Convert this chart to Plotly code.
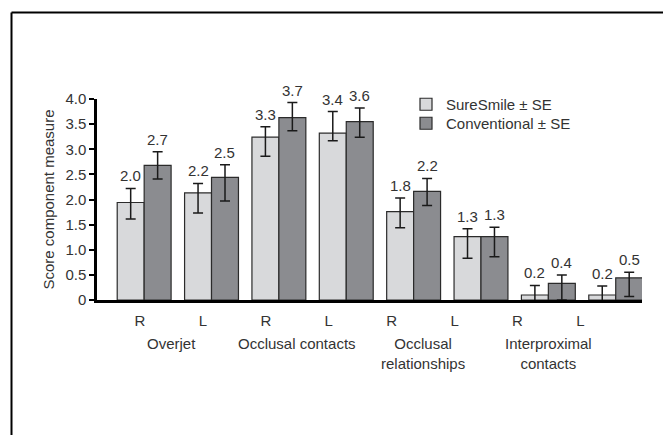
import plotly.graph_objects as go

# ---------------- data ----------------
categories = ["OJ-R", "OJ-L", "OC-R", "OC-L", "OR-R", "OR-L", "IP-R", "IP-L"]
side_labels = ["R", "L", "R", "L", "R", "L", "R", "L"]
group_names = ["Overjet", "Occlusal contacts", "Occlusal<br>relationships", "Interproximal<br>contacts"]

suresmile = [1.94, 2.13, 3.24, 3.32, 1.76, 1.26, 0.10, 0.10]
suresmile_err_up = [0.28, 0.19, 0.21, 0.43, 0.27, 0.16, 0.19, 0.18]
suresmile_err_down = [0.33, 0.40, 0.38, 0.15, 0.32, 0.43, 0.19, 0.18]
suresmile_labels = ["2.0", "2.2", "3.3", "3.4", "1.8", "1.3", "0.2", "0.2"]

conventional = [2.68, 2.44, 3.63, 3.55, 2.16, 1.26, 0.33, 0.44]
conventional_err_up = [0.27, 0.25, 0.30, 0.27, 0.26, 0.19, 0.17, 0.11]
conventional_err_down = [0.27, 0.47, 0.26, 0.31, 0.28, 0.40, 0.33, 0.37]
conventional_labels = ["2.7", "2.5", "3.7", "3.6", "2.2", "1.3", "0.4", "0.5"]

y_tickvals = [0, 0.5, 1.0, 1.5, 2.0, 2.5, 3.0, 3.5, 4.0]
y_ticktext = ["0", "0.5", "1.0", "1.5", "2.0", "2.5", "3.0", "3.5", "4.0"]

# ---------------- layout constants ----------------
W, H = 663, 435
ML, MR, MT, MB = 97, 21, 99, 135
FONT = "Liberation Sans, Arial, Helvetica, sans-serif"
FS = 15
TXT = "#333333"
X_RANGE = [-0.70, 7.39]
X2_RANGE = [-0.684, 7.98]
BARGAP = 0.2

plot_w = W - ML - MR
plot_h = H - MT - MB
cat_px = plot_w / (X_RANGE[1] - X_RANGE[0])
bar_px = cat_px * (1 - BARGAP) / 2

fig = go.Figure()

fig.add_trace(go.Bar(
    name="SureSmile ± SE", x=categories, y=suresmile, legend="legend",
    marker=dict(color="#d8d9db", line=dict(color="#2b2b2b", width=1.2)),
    error_y=dict(type="data", symmetric=False, array=suresmile_err_up,
                 arrayminus=suresmile_err_down, color="#1a1a1a", thickness=1.5, width=5),
    hoverinfo="skip",
))
fig.add_trace(go.Bar(
    name="Conventional ± SE", x=categories, y=conventional, legend="legend2",
    marker=dict(color="#8b8c90", line=dict(color="#2b2b2b", width=1.2)),
    error_y=dict(type="data", symmetric=False, array=conventional_err_up,
                 arrayminus=conventional_err_down, color="#1a1a1a", thickness=1.5, width=5),
    hoverinfo="skip",
))

# invisible trace for secondary axis carrying R/L tick labels
fig.add_trace(go.Scatter(
    x=list(range(len(side_labels))), y=[0] * len(side_labels), xaxis="x2", yaxis="y",
    mode="markers", marker=dict(opacity=0), showlegend=False, hoverinfo="skip",
))

annotations = []
for vals, ups, labs, sign in [(suresmile, suresmile_err_up, suresmile_labels, -1),
                              (conventional, conventional_err_up, conventional_labels, 1)]:
    for c, v, u, lab in zip(categories, vals, ups, labs):
        annotations.append(dict(
            x=c, y=v + u, xref="x", yref="y", text=lab, showarrow=False,
            xanchor="center", yanchor="bottom", xshift=sign * bar_px / 2, yshift=2,
            font=dict(family=FONT, size=FS, color=TXT),
        ))

for i, g in enumerate(group_names):
    annotations.append(dict(
        x=2 * i + 0.5, y=0, xref="x2", yref="paper", text=g, showarrow=False,
        xanchor="center", yanchor="top", yshift=-33,
        font=dict(family=FONT, size=FS, color=TXT),
    ))

# frame lines (top and left)
fx0 = (11.5 - ML) / plot_w
fx1 = (W + 5 - ML) / plot_w
fy_top = (H - MB - 12.5) / plot_h
fy_bot = (H - MB - (H + 5)) / plot_h
shapes = [
    dict(type="line", xref="paper", yref="paper", x0=fx0, x1=fx1, y0=fy_top, y1=fy_top,
         line=dict(color="black", width=2)),
    dict(type="line", xref="paper", yref="paper", x0=fx0, x1=fx0, y0=fy_top, y1=fy_bot,
         line=dict(color="black", width=2)),
]

legend_common = dict(xanchor="left", yanchor="top", bgcolor="rgba(0,0,0,0)",
                     font=dict(family=FONT, size=FS, color=TXT), itemclick=False)

fig.update_layout(
    width=W, height=H,
    margin=dict(l=ML, r=MR, t=MT, b=MB, autoexpand=False),
    paper_bgcolor="white", plot_bgcolor="white",
    barmode="group", bargap=BARGAP, bargroupgap=0,
    font=dict(family=FONT, size=FS, color=TXT),
    showlegend=True,
    legend=dict(x=(406 - ML) / plot_w, y=(H - MB - 88) / plot_h, **legend_common),
    legend2=dict(x=(406 - ML) / plot_w, y=(H - MB - 107) / plot_h, **legend_common),
    xaxis=dict(type="category", range=X_RANGE, showticklabels=False, ticks="",
               showline=True, linecolor="black", linewidth=2.5, showgrid=False, zeroline=False,
               fixedrange=True),
    xaxis2=dict(type="linear", overlaying="x", anchor="y", side="bottom", range=X2_RANGE,
                tickvals=list(range(len(side_labels))), ticktext=side_labels,
                ticks="", showline=False, showgrid=False, zeroline=False, ticklabelstandoff=10,
                tickfont=dict(family=FONT, size=FS, color=TXT), fixedrange=True),
    yaxis=dict(range=[0, 4.0], tickvals=y_tickvals, ticktext=y_ticktext,
               ticks="outside", ticklen=5, tickwidth=2, tickcolor="black",
               showline=True, linecolor="black", linewidth=2.5, showgrid=False, zeroline=False,
               tickfont=dict(family=FONT, size=FS, color=TXT),
               title=dict(text="Score component measure", standoff=8,
                          font=dict(family=FONT, size=FS, color=TXT)),
               fixedrange=True),
    annotations=annotations,
    shapes=shapes,
)

fig.write_html("out.html", config={"displayModeBar": False},
               post_script="document.body.style.margin='0';document.body.style.overflow='hidden';")
